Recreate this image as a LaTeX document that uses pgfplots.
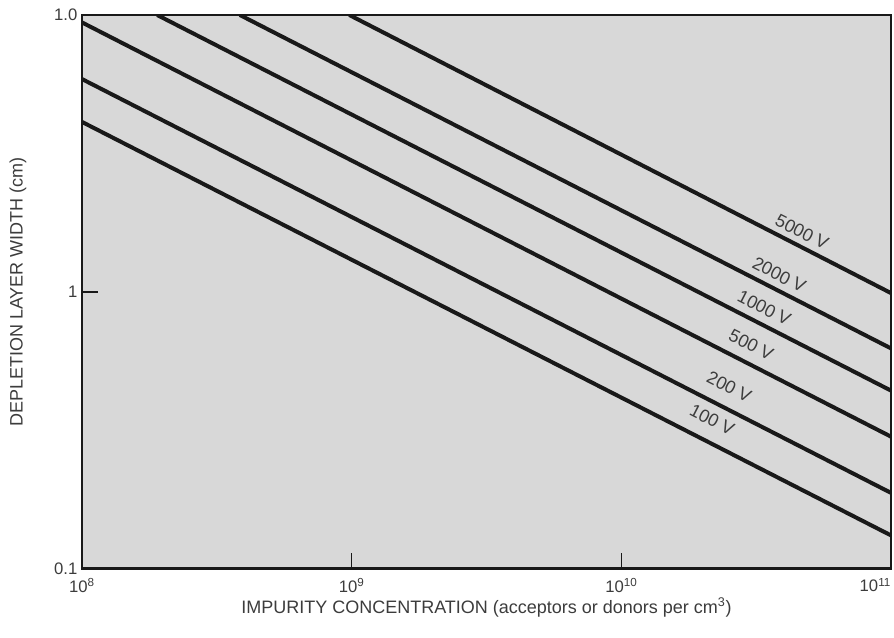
\documentclass[border=0pt]{standalone}
\usepackage{fontspec}
\setmainfont{Liberation Sans}
\usepackage{pgfplots}
\pgfplotsset{compat=1.18}
\definecolor{paper}{RGB}{216,216,216}
\definecolor{ink}{RGB}{25,25,25}
\definecolor{txt}{RGB}{60,60,60}

\begin{document}
\begin{tikzpicture}
\begin{axis}[
    xmode=log, ymode=log,
    scale only axis,
    width=607pt, height=415.5pt,
    xmin=1e8, xmax=1e11,
    ymin=0.1, ymax=10,
    xtick={1e8,1e9,1e10,1e11},
    xticklabels={10\textsuperscript{8},10\textsuperscript{9},10\textsuperscript{10},\hbox to 0pt{\hss 10\textsuperscript{11}}},
    ytick={0.1,1,10},
    yticklabels={0.1,1,1.0},
    xminorticks=false, yminorticks=false,
    tick align=inside,
    tick pos=left,
    major tick length=12pt,
    tick style={line width=1.2pt, ink},
    axis line style={line width=2pt, ink},
    axis background/.style={fill=paper},
    ticklabel style={font=\fontsize{12.5}{14}\selectfont, txt},
    xticklabel style={yshift=-3.5pt},
    /pgf/number format/assume math mode=true,
    xlabel={IMPURITY CONCENTRATION (acceptors or donors per cm\textsuperscript{3})},
    ylabel={DEPLETION LAYER WIDTH (cm)},
    label style={font=\fontsize{13.5}{15}\selectfont, txt},
    xlabel style={at={(axis description cs:0.5,-0.0704)}, anchor=center},
    ylabel style={at={(axis description cs:-0.079,0.5)}, anchor=center},
    clip=true,
]
% 5000 V
\addplot[ink, line width=3pt] coordinates {(9.8e8,10) (1e11,0.99)};
% 2000 V
\addplot[ink, line width=3pt] coordinates {(3.85e8,10) (1e11,0.625)};
% 1000 V
\addplot[ink, line width=3pt] coordinates {(1.9e8,10) (1e11,0.44)};
% 500 V
\addplot[ink, line width=3pt] coordinates {(1e8,9.4) (1e11,0.30)};
% 200 V
\addplot[ink, line width=3pt] coordinates {(1e8,5.87) (1e11,0.188)};
% 100 V
\addplot[ink, line width=3pt] coordinates {(1e8,4.11) (1e11,0.132)};

\node[rotate=-27, txt, font=\fontsize{13.5}{15}\selectfont] at (axis cs:4.68e10,1.647) {5000 V};
\node[rotate=-27, txt, font=\fontsize{13.5}{15}\selectfont] at (axis cs:3.85e10,1.152) {2000 V};
\node[rotate=-27, txt, font=\fontsize{13.5}{15}\selectfont] at (axis cs:3.39e10,0.875) {1000 V};
\node[rotate=-27, txt, font=\fontsize{13.5}{15}\selectfont] at (axis cs:3.03e10,0.644) {500 V};
\node[rotate=-27, txt, font=\fontsize{13.5}{15}\selectfont] at (axis cs:2.51e10,0.454) {200 V};
\node[rotate=-27, txt, font=\fontsize{13.5}{15}\selectfont] at (axis cs:2.17e10,0.345) {100 V};
\end{axis}
\pgfresetboundingbox
\path ([xshift=-61.5pt,yshift=-51.75pt]current axis.south west) rectangle ([xshift=2.25pt,yshift=11.25pt]current axis.north east);
\end{tikzpicture}
\end{document}
